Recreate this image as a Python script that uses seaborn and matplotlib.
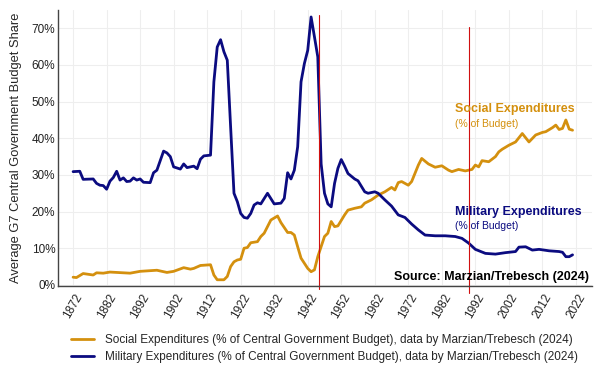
import pandas as pd
import matplotlib
matplotlib.use("Agg")
import matplotlib.pyplot as plt
import seaborn as sns

# values (% of central government budget)
mil_years = [1872, 1874, 1875, 1878, 1879, 1880, 1881, 1882, 1883, 1884, 1885, 1886, 1887, 1888,
             1889, 1890, 1891, 1892, 1893, 1895, 1896, 1897, 1899, 1900, 1901, 1902, 1904, 1905,
             1906, 1908, 1909, 1910, 1911, 1913, 1914, 1915, 1916, 1917, 1918, 1919, 1920, 1921,
             1922, 1923, 1924, 1925, 1926, 1927, 1928, 1930, 1932, 1934, 1935, 1936, 1937, 1938,
             1939, 1940, 1941, 1942, 1943, 1944, 1945, 1946, 1947, 1948, 1949, 1950, 1951, 1952,
             1953, 1954, 1956, 1957, 1959, 1960, 1962, 1963, 1965, 1967, 1969, 1971, 1973, 1975,
             1977, 1980, 1983, 1986, 1988, 1990, 1992, 1995, 1998, 2001, 2004, 2005, 2007, 2009,
             2011, 2014, 2017, 2018, 2019, 2020, 2021]
mil_values = [30.9, 31.0, 28.8, 28.9, 27.7, 27.2, 27.1, 26.1, 28.3, 29.3, 31.0, 28.6, 29.2, 28.2,
              28.3, 29.2, 28.6, 28.9, 28.0, 27.9, 30.6, 31.3, 36.5, 36.0, 35.0, 32.2, 31.6, 33.0,
              32.0, 32.4, 31.7, 34.3, 35.2, 35.4, 55.4, 64.9, 66.9, 63.6, 61.3, 43.0, 25.0, 22.7,
              19.5, 18.4, 18.2, 19.5, 21.8, 22.4, 22.1, 25.0, 22.1, 22.3, 23.6, 30.6, 28.9, 31.3,
              37.7, 55.4, 60.4, 64.0, 73.1, 67.7, 62.2, 33.0, 25.0, 22.1, 21.3, 27.7, 31.8, 34.2,
              32.4, 30.4, 28.9, 28.4, 25.4, 25.0, 25.4, 25.0, 23.2, 21.5, 19.1, 18.4, 16.6, 15.0,
              13.6, 13.4, 13.4, 13.2, 12.7, 11.4, 9.7, 8.6, 8.4, 8.8, 9.1, 10.3, 10.4, 9.5,
              9.7, 9.3, 9.1, 8.9, 7.7, 7.7, 8.2]

soc_years = [1872, 1873, 1875, 1878, 1879, 1881, 1883, 1885, 1889, 1892, 1897, 1898, 1900, 1902,
             1905, 1907, 1908, 1910, 1913, 1914, 1915, 1917, 1918, 1919, 1920, 1921, 1922, 1923,
             1924, 1925, 1927, 1928, 1929, 1930, 1931, 1933, 1934, 1936, 1937, 1938, 1939, 1940,
             1942, 1943, 1944, 1945, 1947, 1948, 1949, 1950, 1951, 1953, 1954, 1956, 1958, 1959,
             1961, 1963, 1965, 1967, 1968, 1969, 1970, 1972, 1973, 1975, 1976, 1978, 1980, 1982,
             1984, 1985, 1987, 1989, 1991, 1992, 1993, 1994, 1996, 1998, 1999, 2000, 2002, 2004,
             2006, 2008, 2010, 2012, 2013, 2015, 2016, 2017, 2018, 2019, 2020, 2021]
soc_values = [2.1, 2.0, 3.1, 2.7, 3.3, 3.2, 3.5, 3.4, 3.2, 3.7, 4.0, 3.8, 3.4, 3.7,
              4.7, 4.3, 4.5, 5.3, 5.5, 2.7, 1.4, 1.4, 2.3, 5.0, 6.3, 6.8, 7.0, 10.0,
              10.2, 11.5, 11.8, 13.2, 14.1, 15.9, 17.7, 18.8, 17.0, 14.3, 14.3, 13.6, 10.4, 7.3,
              4.5, 3.6, 4.1, 7.7, 13.2, 14.1, 17.3, 15.9, 16.1, 19.1, 20.4, 20.9, 21.3, 22.3,
              23.2, 24.5, 25.4, 26.6, 25.9, 27.9, 28.2, 27.2, 28.2, 32.7, 34.5, 33.0, 32.1, 32.5,
              31.3, 30.9, 31.5, 31.1, 31.5, 32.7, 32.2, 33.9, 33.6, 35.0, 36.3, 37.0, 38.1, 39.0,
              41.3, 39.0, 40.9, 41.6, 41.8, 42.9, 43.6, 42.4, 42.7, 45.0, 42.5, 42.2]

soc_name = "Social Expenditures (% of Central Government Budget), data by Marzian/Trebesch (2024)"
mil_name = "Military Expenditures (% of Central Government Budget), data by Marzian/Trebesch (2024)"
tick_years = list(range(1872, 2023, 10))
y_ticks = [0, 10, 20, 30, 40, 50, 60, 70]
event_years = [1945.5, 1990.2]

soc_color = "#D4900E"
mil_color = "#0B0B80"

df = pd.concat([
    pd.DataFrame({"year": soc_years, "share": soc_values, "series": soc_name}),
    pd.DataFrame({"year": mil_years, "share": mil_values, "series": mil_name}),
])

sns.set_style("white")
plt.rcParams["font.family"] = ["Liberation Sans", "DejaVu Sans"]

fig = plt.figure(figsize=(6.02, 3.78), dpi=100)
ax = fig.add_axes([58 / 602, 1 - 286 / 378, 534 / 602, 276 / 378])

sns.lineplot(data=df, x="year", y="share", hue="series",
             palette=[soc_color, mil_color], linewidth=2.0, ax=ax)

ax.set_xlim(1867.5, 2026.8)
ax.set_ylim(-0.3, 75)
ax.set_xticks(tick_years)
ax.set_xticklabels([str(y) for y in tick_years], rotation=60, ha="center",
                   fontsize=8.5, color="#222222")
ax.set_yticks(y_ticks)
ax.set_yticklabels([f"{v}%" for v in y_ticks], fontsize=8.5, color="#222222")
ax.tick_params(axis="x", length=3, width=0.8, color="#555555", pad=1)
ax.tick_params(axis="y", length=0, pad=2)
ax.grid(True, color="#eeeeee", linewidth=0.8)
ax.set_axisbelow(True)

sns.despine(ax=ax)
for side in ["left", "bottom"]:
    ax.spines[side].set_color("#444444")
    ax.spines[side].set_linewidth(1.0)

ax.set_xlabel("")
ax.set_ylabel("Average G7 Central Government Budget Share", fontsize=9.3, labelpad=7)

# event markers
ax.plot([event_years[0]] * 2, [73.5, -1.1], color="#d01010", linewidth=0.8, clip_on=False)
ax.plot([event_years[1]] * 2, [70.3, -2.2], color="#d01010", linewidth=0.8, clip_on=False)

# in-plot annotations
ax.text(1986.0, 48.0, "Social Expenditures", color=soc_color, fontsize=9,
        fontweight="bold", va="center", ha="left")
ax.text(1986.0, 44.0, "(% of Budget)", color=soc_color, fontsize=7.5, va="center", ha="left")
ax.text(1986.0, 20.0, "Military Expenditures", color=mil_color, fontsize=9,
        fontweight="bold", va="center", ha="left")
ax.text(1986.0, 16.2, "(% of Budget)", color=mil_color, fontsize=7.5, va="center", ha="left")
ax.text(2025.8, 2.2, "Source: Marzian/Trebesch (2024)", color="black", fontsize=9,
        fontweight="bold", va="center", ha="right")

ax.get_legend().remove()
handles, labels = ax.get_lines()[:2], [soc_name, mil_name]
fig.legend(handles, labels, loc="center", bbox_to_anchor=(0.539, 0.078), frameon=False,
           fontsize=8.5, handlelength=1.9, handletextpad=0.9, labelspacing=0.45)

plt.savefig("out.png", dpi=100)
